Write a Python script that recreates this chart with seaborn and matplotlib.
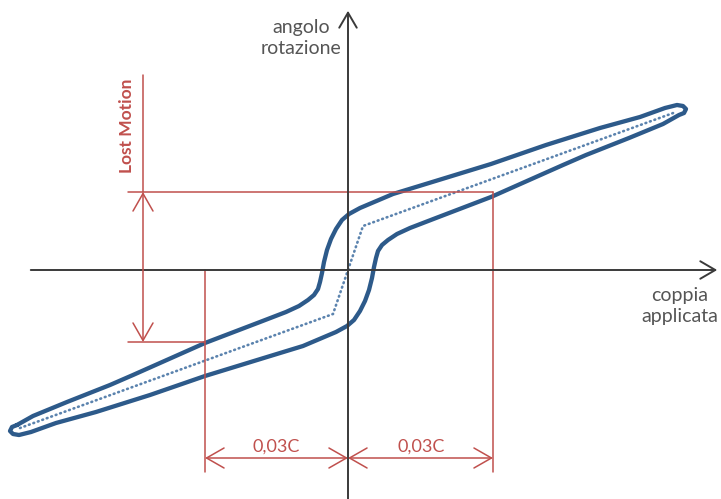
import numpy as np
import pandas as pd
import matplotlib
matplotlib.use("Agg")
import matplotlib.pyplot as plt
import seaborn as sns

# Hysteresis loop (torque vs rotation angle), origin at axis crossing
# upper branch: from left tip to right tip
upper_x = [-331, -315, -281, -238, -215, -143, -88, -62, -49, -40, -34, -30, -28, -26, -24, -21, -17, -12, -6, 1, 12,
           45, 81, 143, 198, 252, 292, 317, 329, 335, 338, 336]
upper_y = [-155, -146, -132, -115, -105, -73, -52, -42, -36, -30, -25, -19, -12, -3, 8, 20, 31, 41, 50, 56, 62,
           76, 87, 106, 125, 142, 153, 162, 165, 164, 161, 157]
# lower branch: from right tip back to left tip
lower_x = [331, 315, 281, 238, 215, 143, 88, 62, 49, 40, 34, 30, 28, 26, 24, 21, 17, 12, 6, -1, -12,
           -45, -81, -143, -198, -252, -292, -317, -329, -335, -338, -336]
lower_y = [155, 146, 132, 115, 105, 73, 52, 42, 36, 30, 25, 19, 12, 3, -8, -20, -31, -41, -50, -56, -62,
           -76, -87, -106, -125, -142, -153, -162, -165, -164, -161, -157]

# Mean (dotted) characteristic
mid_x = [-328, -15, 15, 328]
mid_y = [-158, -44, 44, 158]

# Dimension markers
lost_motion_top = 78
lost_motion_bottom = -72
torque_left = -143
torque_right = 145

BLUE = "#2D5A8A"
RED = "#C0504D"
GREY = "#3A3A3A"
TXT = "#555555"

sns.set_theme(style="white")
plt.rcParams['font.family'] = ['Lato', 'DejaVu Sans']

fig = plt.figure(figsize=(7.21, 4.99), dpi=100)
ax = fig.add_axes([0, 0, 1, 1])
ax.set_xlim(-348, 373)
ax.set_ylim(-229, 270)
ax.axis('off')

loop = pd.DataFrame({
    'x': upper_x + lower_x + upper_x[:1],
    'y': upper_y + lower_y + upper_y[:1],
})
sns.lineplot(data=loop, x='x', y='y', sort=False, estimator=None, ax=ax,
             color=BLUE, lw=3.1, solid_joinstyle='round', solid_capstyle='round')

mid = pd.DataFrame({'x': mid_x, 'y': mid_y})
sns.lineplot(data=mid, x='x', y='y', sort=False, estimator=None, ax=ax,
             color="#5B83AE", lw=1.9, linestyle=(0, (0.3, 1.5)), dash_capstyle='round')

# axes with open arrow heads
ax.annotate('', xy=(372, 0), xytext=(-320, 0),
            arrowprops=dict(arrowstyle='->,head_length=0.6,head_width=0.35', color=GREY, lw=1.4, mutation_scale=18))
ax.annotate('', xy=(0, 262), xytext=(0, -235),
            arrowprops=dict(arrowstyle='->,head_length=0.6,head_width=0.35', color=GREY, lw=1.4, mutation_scale=18))

ax.text(-47, 232, 'angolo\nrotazione', ha='center', va='center', color=TXT,
        fontsize=14, linespacing=1.35)
ax.text(332, -36, 'coppia\napplicata', ha='center', va='center', color=TXT,
        fontsize=14, linespacing=1.25)

# red construction lines
rl = dict(color=RED, lw=1.1)
ax.plot([-220, torque_right], [lost_motion_top, lost_motion_top], **rl)
ax.plot([-220, torque_left], [lost_motion_bottom, lost_motion_bottom], **rl)
ax.plot([-205, -205], [lost_motion_top, 195], **rl)
ax.plot([torque_left, torque_left], [0, -202], **rl)
ax.plot([torque_right, torque_right], [lost_motion_top, -202], **rl)

arr = dict(arrowstyle='<->,head_length=0.7,head_width=0.4', color=RED, lw=1.1,
           mutation_scale=18, shrinkA=0, shrinkB=0)
ax.annotate('', xy=(-205, lost_motion_top), xytext=(-205, lost_motion_bottom), arrowprops=arr)
ax.annotate('', xy=(torque_left, -188), xytext=(0, -188), arrowprops=arr)
ax.annotate('', xy=(0, -188), xytext=(torque_right, -188), arrowprops=arr)

ax.text(-221, 144, 'Lost Motion', rotation=90, ha='center', va='center',
        color=RED, fontsize=12.5, fontweight='bold')
ax.text(-72, -177, '0,03C', ha='center', va='center', color=RED, fontsize=13)
ax.text(73, -177, '0,03C', ha='center', va='center', color=RED, fontsize=13)

fig.savefig('out.png', dpi=100, facecolor='white')
